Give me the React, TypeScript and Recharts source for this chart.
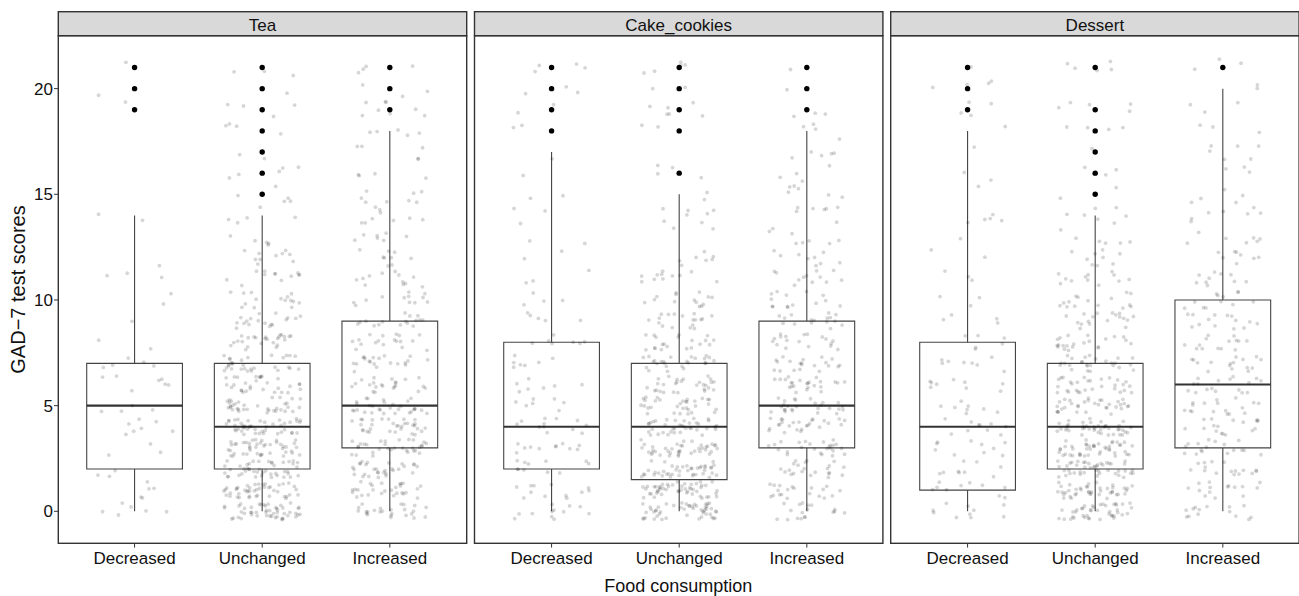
import React from 'react';
import { ScatterChart, Scatter, XAxis, YAxis, ReferenceArea, ReferenceLine } from 'recharts';

const FONT = '"Liberation Sans", Arial, Helvetica, sans-serif';

const panels = ['Tea', 'Cake_cookies', 'Dessert'];
const categories = ['Decreased', 'Unchanged', 'Increased'];
const yTicks = [0, 5, 10, 15, 20];
const xTitle = 'Food consumption';
const yTitle = 'GAD\u22127 test scores';

// box statistics per category: [lower whisker, Q1, median, Q3, upper whisker]
const teaBoxes = [[0, 2, 5, 7, 14], [0, 2, 4, 7, 14], [0, 3, 5, 9, 18]];
const cakeBoxes = [[0, 2, 4, 8, 17], [0, 1.5, 4, 7, 15], [0, 3, 5, 9, 18]];
const dessertBoxes = [[0, 1, 4, 8, 18], [0, 2, 4, 7, 14], [0, 3, 6, 10, 20]];

// outliers per category
const teaOutliers = [[19, 20, 21], [15, 16, 17, 18, 19, 20, 21], [19, 20, 21]];
const cakeOutliers = [[18, 19, 20, 21], [16, 18, 19, 20, 21], [19, 20, 21]];
const dessertOutliers = [[19, 20, 21], [15, 16, 17, 18, 19, 21], [21]];

// number of respondents at each score 0..21, per category (read from the jittered cloud)
const teaCounts = [
  [6, 5, 3, 3, 7, 4, 7, 5, 2, 1, 2, 3, 1, 0, 2, 0, 0, 0, 0, 1, 1, 1],
  [50, 45, 45, 45, 45, 35, 30, 30, 25, 18, 15, 12, 10, 5, 5, 5, 5, 2, 4, 4, 1, 3],
  [25, 28, 30, 32, 32, 30, 22, 20, 18, 16, 12, 12, 9, 7, 9, 8, 4, 5, 5, 8, 3, 5],
];
const cakeCounts = [
  [12, 12, 11, 11, 12, 7, 7, 7, 7, 5, 4, 3, 2, 2, 3, 2, 1, 1, 2, 2, 3, 4],
  [50, 50, 42, 40, 38, 32, 28, 25, 20, 18, 14, 11, 7, 2, 7, 2, 4, 0, 2, 6, 2, 5],
  [18, 20, 22, 25, 26, 26, 24, 20, 18, 16, 14, 12, 9, 8, 7, 6, 4, 5, 4, 3, 1, 1],
];
const dessertCounts = [
  [10, 10, 9, 10, 10, 8, 9, 8, 6, 4, 3, 3, 2, 1, 5, 1, 2, 1, 1, 4, 4, 1],
  [42, 42, 45, 45, 42, 33, 30, 26, 22, 18, 15, 12, 9, 6, 7, 2, 4, 1, 4, 5, 0, 5],
  [14, 15, 16, 17, 17, 17, 17, 16, 14, 14, 12, 10, 8, 7, 7, 5, 3, 6, 3, 3, 2, 3],
];

const allBoxes = [teaBoxes, cakeBoxes, dessertBoxes];
const allOutliers = [teaOutliers, cakeOutliers, dessertOutliers];
const allCounts = [teaCounts, cakeCounts, dessertCounts];

// layout
const PANEL_LEFT0 = 58.3;
const PANEL_STEP = 416.2;
const PANEL_W = 408.4;
const PLOT_TOP = 35.7;
const PLOT_H = 507.6;
const STRIP_TOP = 11.7;
const Y_MIN = -1.528;
const Y_MAX = 22.49;
const X_MIN = 0.4;
const X_MAX = 3.6;
const HALF_BOX = 0.375;
const Y_AXIS_W = 50;

// deterministic hash used only to place the jitter offsets
const hash = (a: number, b: number) => {
  const s = Math.sin(a * 12.9898 + b * 78.233) * 43758.5453;
  return s - Math.floor(s);
};

function jitter(counts: number[], center: number, seed: number) {
  const pts: { x: number; y: number }[] = [];
  let i = 0;
  counts.forEach((n, score) => {
    for (let k = 0; k < n; k++) {
      const u = hash(i + 1, seed);
      const v = hash(seed + 3.7, i + 11);
      pts.push({ x: center + (u - 0.5) * 0.6, y: score + (v - 0.5) * 0.8 });
      i++;
    }
  });
  return pts;
}

const JitterDot = (p: any) => (
  <circle cx={p.cx} cy={p.cy} r={1.9} fill="#000" fillOpacity={0.16} />
);
const OutlierDot = (p: any) => <circle cx={p.cx} cy={p.cy} r={2.7} fill="#000" />;

function Panel({ idx }: { idx: number }) {
  const isFirst = idx === 0;
  const boxes = allBoxes[idx];
  const outliers = allOutliers[idx];
  const counts = allCounts[idx];
  const panelLeft = PANEL_LEFT0 + idx * PANEL_STEP;
  const yw = isFirst ? Y_AXIS_W : 0;
  const width = yw + 2 + PANEL_W + 2;
  const height = 2 + PLOT_H + 50;

  const jitterData = counts.flatMap((c, ci) => jitter(c, ci + 1, 1.3 + idx * 2.9 + ci * 4.1));
  const outlierData = outliers.flatMap((o, ci) => o.map((v) => ({ x: ci + 1, y: v })));

  return (
    <div style={{ position: 'absolute', left: panelLeft - 2 - yw, top: PLOT_TOP - 2 }}>
      <ScatterChart width={width} height={height} margin={{ top: 2, right: 2, left: 2, bottom: 0 }}>
        <XAxis
          type="number"
          dataKey="x"
          domain={[X_MIN, X_MAX]}
          ticks={[1, 2, 3]}
          interval={0}
          allowDataOverflow
          axisLine={false}
          tickLine={{ stroke: '#333', strokeWidth: 1 }}
          tickSize={4}
          tickMargin={4}
          height={50}
          tickFormatter={(v: number) => categories[Math.round(v) - 1]}
          tick={{ fill: '#111', fontSize: 17, fontFamily: FONT }}
        />
        <YAxis
          type="number"
          dataKey="y"
          domain={[Y_MIN, Y_MAX]}
          ticks={yTicks}
          interval={0}
          allowDataOverflow
          axisLine={false}
          width={isFirst ? Y_AXIS_W : 0}
          mirror={!isFirst}
          tickSize={isFirst ? 4 : 3}
          tickMargin={1}
          tickLine={{ stroke: '#333', strokeWidth: 1 }}
          tick={isFirst ? { fill: '#111', fontSize: 17, fontFamily: FONT } : () => <g />}
        />
        <Scatter data={jitterData} shape={JitterDot} isAnimationActive={false} />
        {boxes.map((b, ci) => (
          <ReferenceArea
            key={'box' + ci}
            x1={ci + 1 - HALF_BOX}
            x2={ci + 1 + HALF_BOX}
            y1={b[1]}
            y2={b[3]}
            fill="none"
            fillOpacity={0}
            stroke="#444"
            strokeWidth={1.1}
            ifOverflow="visible"
          />
        ))}
        {boxes.map((b, ci) => (
          <ReferenceLine
            key={'wl' + ci}
            segment={[{ x: ci + 1, y: b[0] }, { x: ci + 1, y: b[1] }]}
            stroke="#444"
            strokeWidth={1.1}
            ifOverflow="visible"
          />
        ))}
        {boxes.map((b, ci) => (
          <ReferenceLine
            key={'wu' + ci}
            segment={[{ x: ci + 1, y: b[3] }, { x: ci + 1, y: b[4] }]}
            stroke="#444"
            strokeWidth={1.1}
            ifOverflow="visible"
          />
        ))}
        {boxes.map((b, ci) => (
          <ReferenceLine
            key={'med' + ci}
            segment={[{ x: ci + 1 - HALF_BOX, y: b[2] }, { x: ci + 1 + HALF_BOX, y: b[2] }]}
            stroke="#333"
            strokeWidth={2.2}
            ifOverflow="visible"
          />
        ))}
        <Scatter data={outlierData} shape={OutlierDot} isAnimationActive={false} />
      </ScatterChart>
    </div>
  );
}

export default function App() {
  return (
    <div
      style={{
        position: 'absolute',
        left: 0,
        top: 0,
        width: 1299,
        height: 596,
        overflow: 'hidden',
        background: '#fff',
        fontFamily: FONT,
      }}
    >
      {panels.map((_, i) => (
        <Panel key={i} idx={i} />
      ))}
      <svg
        width={1299}
        height={596}
        style={{ position: 'absolute', left: 0, top: 0, pointerEvents: 'none' }}
      >
        {panels.map((name, i) => {
          const x = PANEL_LEFT0 + i * PANEL_STEP;
          return (
            <g key={name}>
              <rect x={x} y={PLOT_TOP} width={PANEL_W} height={PLOT_H} fill="none" stroke="#333" strokeWidth={1.4} />
              <rect x={x} y={STRIP_TOP} width={PANEL_W} height={PLOT_TOP - STRIP_TOP} fill="#d9d9d9" stroke="#333" strokeWidth={1.4} />
              <text x={x + PANEL_W / 2} y={31.3} textAnchor="middle" fontSize={17} fontFamily={FONT} fill="#111">
                {name}
              </text>
            </g>
          );
        })}
        <text x={678.2} y={592} textAnchor="middle" fontSize={18} fontFamily={FONT} fill="#111">
          {xTitle}
        </text>
        <text
          transform={`translate(25, ${PLOT_TOP + PLOT_H / 2}) rotate(-90)`}
          textAnchor="middle"
          fontSize={20}
          fontFamily={FONT}
          fill="#111"
        >
          {yTitle}
        </text>
      </svg>
    </div>
  );
}
